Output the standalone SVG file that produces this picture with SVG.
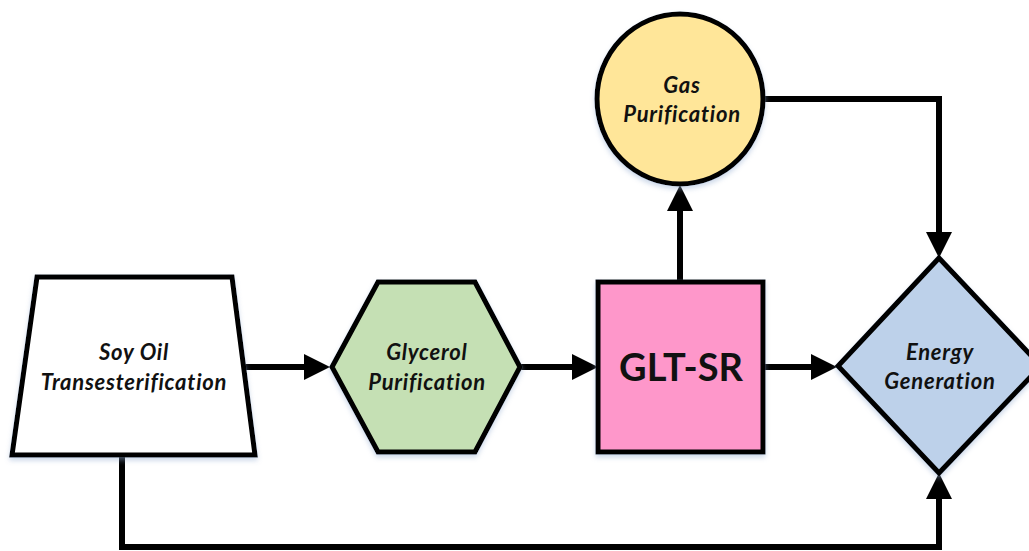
<svg xmlns="http://www.w3.org/2000/svg" width="1029" height="551" viewBox="0 0 1029 551">
  <defs>
    <marker id="arrow" markerUnits="userSpaceOnUse" markerWidth="26" markerHeight="28" refX="6" refY="14" orient="auto">
      <path d="M0,1 L26,14 L0,27 Z" fill="#000"/>
    </marker>
    <filter id="soft" x="-10%" y="-10%" width="120%" height="125%">
      <feDropShadow dx="0" dy="3" stdDeviation="2.5" flood-color="#8fa9cf" flood-opacity="0.45"/>
    </filter>
  </defs>
  <style>
    .shape { stroke: #000; stroke-width: 5; stroke-linejoin: miter; filter: url(#soft); }
    .label { font-family: Lato, "Open Sans", "Liberation Sans", sans-serif; font-weight: bold; font-style: italic; font-size: 22px; letter-spacing: 0.75px; font-variant-ligatures: none; fill: #111; text-anchor: middle; }
    .title { font-family: Lato, "Open Sans", "Liberation Sans", sans-serif; font-weight: bold; font-size: 38px; fill: #111; text-anchor: middle; }
    .link { fill: none; stroke: #000; stroke-width: 6; stroke-linejoin: miter; marker-end: url(#arrow); }
  </style>
  <rect width="1029" height="551" fill="#fff"/>

  <!-- connectors -->
  <g id="connectors">
    <path class="link" d="M242,367 H310"/>
    <path class="link" d="M520,367 H578"/>
    <path class="link" d="M763,367 H817"/>
    <path class="link" d="M680,282 V205"/>
    <path class="link" d="M763,99 H939 V238"/>
    <path class="link" d="M122,456 V547 H939 V493"/>
  </g>

  <!-- soy oil transesterification -->
  <g id="transesterification">
    <polygon class="shape" points="37,277 232,277 255,455 12,455" fill="#fff"/>
    <text class="label" x="134" y="360">Soy Oil</text>
    <text class="label" x="134" y="390">Transesterification</text>
  </g>

  <!-- glycerol purification -->
  <g id="glycerol">
    <polygon class="shape" points="332,367 378,282 475,282 520,367 475,452 378,452" fill="#c5e0b4"/>
    <text class="label" x="427" y="360">Glycerol</text>
    <text class="label" x="427" y="390">Purification</text>
  </g>

  <!-- reformer -->
  <g id="glt-sr">
    <rect class="shape" x="598" y="282" width="165" height="170" fill="#fe97ca"/>
    <text class="title" x="681" y="381">GLT-SR</text>
  </g>

  <!-- gas purification -->
  <g id="gas">
    <ellipse class="shape" cx="680" cy="99" rx="83" ry="85" fill="#ffe699"/>
    <text class="label" x="682" y="93">Gas</text>
    <text class="label" x="682" y="122">Purification</text>
  </g>

  <!-- energy generation -->
  <g id="energy">
    <polygon class="shape" points="939,258 1041,366 939,473 838,366" fill="#bdd1ea"/>
    <text class="label" x="940" y="360">Energy</text>
    <text class="label" x="940" y="389">Generation</text>
  </g>
</svg>
